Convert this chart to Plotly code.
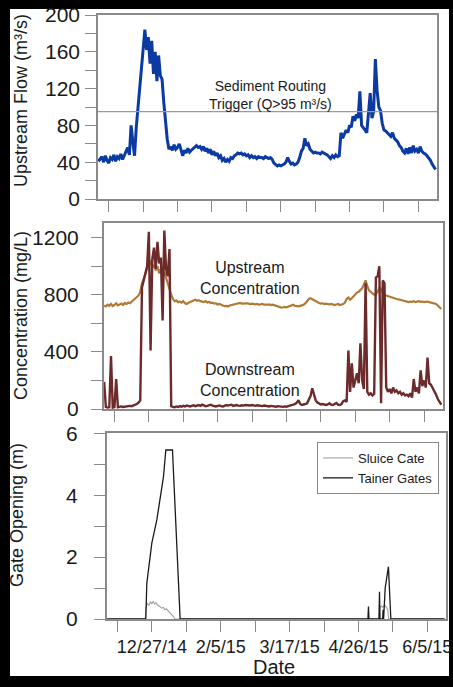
import pandas as pd
import plotly.graph_objects as go

# ---- data (daily values starting 1 Dec 2014) ----
start_date = "2014-12-01"

flow_m3s = [
    41, 44, 46, 40, 47, 42, 39, 45, 43, 48, 41, 46, 44, 49, 43, 47, 52, 56, 48, 80,
    62, 47, 78, 100, 118, 138, 158, 184, 162, 176, 147, 172, 136, 160, 128, 156, 134, 130, 105, 85,
    65, 54, 57, 53, 59, 54, 56, 60, 52, 47, 53, 50, 55, 51, 53, 55, 57, 58, 56, 57,
    54, 57, 52, 55, 50, 54, 48, 52, 47, 50, 45, 47, 42, 44, 40, 43, 41, 45, 44, 47,
    48, 50, 49, 50, 48, 49, 47, 48, 45, 47, 45, 46, 44, 46, 45, 45, 44, 46, 45, 44,
    45, 43, 39, 37, 36, 37, 36, 37, 38, 40, 45, 41, 38, 39, 37, 38, 40, 45, 52, 55,
    66, 58, 60, 54, 52, 50, 51, 50, 50, 49, 51, 50, 49, 48, 46, 44, 47, 45, 48, 46,
    47, 72, 66, 70, 75, 72, 80, 78, 90, 85, 92, 88, 117, 80, 78, 75, 72, 90, 115, 88,
    95, 152, 118, 100, 96, 82, 75, 74, 72, 70, 68, 72, 66, 64, 62, 58, 56, 52, 50, 55,
    49, 56, 50, 58, 52, 54, 50, 57, 52, 50, 49, 47, 45, 42, 38, 35, 32,
]

upstream_mgl = [
    725, 718, 730, 722, 735, 720, 728, 740, 725, 732, 738, 728, 742, 735, 745, 740, 752, 760, 770, 785,
    795, 820, 880, 910, 950, 980, 1000, 1040, 990, 1010, 970, 1000, 950, 980, 930, 960, 920, 880, 830, 800,
    770, 755, 760, 748, 752, 745, 755, 740, 735, 745, 750, 755, 760, 765, 758, 762, 755, 750, 748, 755,
    745, 750, 742, 745, 738, 740, 732, 735, 728, 725, 720, 722, 718, 725, 728, 730, 735, 738, 740, 742,
    738, 740, 742, 740, 738, 735, 738, 735, 732, 735, 730, 732, 735, 730, 728, 730, 732, 728, 730, 725,
    720, 715, 712, 710, 712, 715, 712, 718, 720, 728, 730, 722, 720, 718, 722, 725, 730, 740, 755, 770,
    775, 768, 760, 752, 745, 742, 738, 740, 735, 738, 735, 732, 735, 730, 728, 732, 735, 728, 730, 735,
    745, 770, 780, 765, 775, 790, 800, 815, 820, 830, 845, 870, 900, 860, 830, 820, 810, 800, 805, 820,
    850, 840, 815, 800, 795, 790, 785, 780, 778, 775, 770, 768, 765, 760, 758, 755, 750, 748, 752, 750,
    755, 748, 752, 755, 750, 752, 748, 750, 752, 748, 745, 742, 740, 735, 725, 712, 700,
]

downstream_mgl = [
    190, 15, 10, 12, 370, 10, 14, 210, 12, 15, 18, 14, 16, 20, 18, 22, 20, 25, 28, 35,
    45, 60, 850, 900, 950, 1000, 1240, 410, 1050, 1130, 980, 1170, 1020, 1060, 620, 1250, 980, 930, 1120, 20,
    15, 12, 18, 14, 20, 16, 22, 18, 25, 20, 18, 22, 26, 20, 24, 28, 22, 30, 25, 20,
    22, 26, 30, 24, 20, 18, 22, 25, 20, 18, 22, 28, 24, 26, 30, 22, 25, 28, 24, 22,
    26, 24, 28, 26, 22, 25, 28, 24, 22, 26, 24, 22, 20, 24, 22, 20, 18, 22, 20, 18,
    16, 20, 18, 16, 15, 18, 16, 20, 22, 25, 30, 35, 45, 62, 35, 28, 30, 35, 40, 60,
    90, 145, 100, 60, 45, 38, 32, 35, 30, 28, 32, 40, 30, 28, 35, 42, 30, 28, 35, 55,
    60, 50, 410, 120, 320, 150, 200, 250, 180, 460, 200, 140, 880, 120, 100, 110, 95, 105, 920, 930,
    1000, 40, 900, 880, 150, 120, 140, 110, 150, 120, 130, 110, 120, 100, 110, 95, 100, 90, 110, 80,
    210, 120, 150, 110, 270, 160, 200, 150, 360, 180, 170, 150, 120, 100, 70, 45, 30,
]

# gate openings: day offsets from start_date and opening (m)
tainer_day = [0, 22.45, 23.05, 25.96, 28.86, 32.73, 34.09, 37.96, 42.41,
              151.5, 151.8, 152.1, 157.9, 158.2, 158.5, 160.0, 160.3, 160.6,
              161.5, 163.4, 164.8, 196]
tainer_m = [0, 0, 1.15, 2.45, 3.2, 4.6, 5.46, 5.46, 0,
            0, 0.4, 0, 0, 0.88, 0, 0, 0.3, 0,
            1.0, 1.69, 0, 0]

sluice_day = [0, 22.2, 22.5, 23.4, 24.3, 25.2, 26.0, 26.8, 27.6, 28.4, 29.3, 30.1,
              31.0, 31.8, 32.7, 33.5, 34.4, 35.2, 36.0, 36.9, 37.7, 38.5, 39.4,
              158.0, 158.3, 159.2, 160.1, 161.0, 162.0, 163.0, 163.5, 196]
sluice_m = [0, 0, 0.38, 0.5, 0.45, 0.55, 0.5, 0.57, 0.48, 0.52, 0.45, 0.42,
            0.38, 0.35, 0.37, 0.3, 0.33, 0.28, 0.22, 0.2, 0.15, 0.08, 0,
            0, 0.35, 0.42, 0.38, 0.45, 0.4, 0.3, 0, 0]

trigger_q = 95

flow_ticks = dict(major=40, minor=20, top=200)
conc_ticks = dict(major=400, minor=200, top=1300)
gate_ticks = dict(major=2, minor=1, top=6)

# ---- derived time axes ----
base = pd.Timestamp(start_date)
t_flow = pd.date_range(start_date, periods=len(flow_m3s), freq="D")
t_up = pd.date_range(start_date, periods=len(upstream_mgl), freq="D")
t_down = pd.date_range(start_date, periods=len(downstream_mgl), freq="D")
t_tainer = [base + pd.to_timedelta(d, unit="D") for d in tainer_day]
t_sluice = [base + pd.to_timedelta(d, unit="D") for d in sluice_day]

x_range = ["2014-11-30 18:00", "2015-06-15 20:00"]
DAY_MS = 86400000

FONT = "Liberation Sans, Arial, sans-serif"
FRAME = "#8a8a8a"
INK = "#1a1a1a"
W, H = 453, 687

fig = go.Figure()

fig.add_trace(go.Scatter(x=t_flow, y=flow_m3s, mode="lines", xaxis="x", yaxis="y",
                         line=dict(color="#0b3aa3", width=3), showlegend=False))
fig.add_trace(go.Scatter(x=t_up, y=upstream_mgl, mode="lines", xaxis="x2", yaxis="y2",
                         line=dict(color="#b07a36", width=2.2), showlegend=False))
fig.add_trace(go.Scatter(x=t_down, y=downstream_mgl, mode="lines", xaxis="x2", yaxis="y2",
                         line=dict(color="#6c2a2a", width=2.4), showlegend=False))
fig.add_trace(go.Scatter(x=t_sluice, y=sluice_m, mode="lines", xaxis="x3", yaxis="y3",
                         name="Sluice Cate", line=dict(color="#a0a0a0", width=1.1)))
fig.add_trace(go.Scatter(x=t_tainer, y=tainer_m, mode="lines", xaxis="x3", yaxis="y3",
                         name="Tainer Gates", line=dict(color="#1a1a1a", width=1.3)))


def xaxis_style(domain, anchor, labels):
    return dict(
        domain=domain, anchor=anchor, type="date", range=x_range, automargin=False,
        tick0="2014-12-27", dtick=40 * DAY_MS, tickformat="%-m/%-d/%y",
        ticks="outside", ticklen=11, tickwidth=1.3, tickcolor=FRAME,
        minor=dict(tick0="2014-12-07", dtick=20 * DAY_MS, ticks="outside",
                   ticklen=11, tickwidth=1.3, tickcolor=FRAME),
        showline=True, mirror=True, linecolor=FRAME, linewidth=1.5,
        showgrid=False, zeroline=False, showticklabels=labels,
        ticklabelstandoff=0,
        tickfont=dict(family=FONT, size=18, color=INK),
    )


def yaxis_style(domain, anchor, spec, label_gap):
    return dict(
        domain=domain, anchor=anchor, range=[0, spec["top"]], automargin=False,
        tick0=0, dtick=spec["major"],
        ticks="outside", ticklen=11, tickwidth=1.3, tickcolor=FRAME,
        minor=dict(dtick=spec["minor"], ticks="outside", ticklen=11,
                   tickwidth=1.3, tickcolor=FRAME),
        showline=True, mirror=True, linecolor=FRAME, linewidth=1.5,
        showgrid=False, zeroline=False,
        ticklabelstandoff=label_gap,
        tickfont=dict(family=FONT, size=21, color=INK),
    )


def px_x(a, b):
    return [a / W, b / W]


def px_y(top, bottom):
    return [1 - bottom / H, 1 - top / H]


fig.update_layout(
    width=W, height=H, autosize=False,
    margin=dict(l=0, r=0, t=0, b=0, autoexpand=False),
    paper_bgcolor="black", plot_bgcolor="white",
    font=dict(family=FONT, color=INK),
    xaxis=xaxis_style(px_x(98, 437), "y", False),
    xaxis2=xaxis_style(px_x(103.7, 442.7), "y2", False),
    xaxis3=xaxis_style(px_x(106.7, 446), "y3", True),
    yaxis=yaxis_style(px_y(15, 199), "x", flow_ticks, 1),
    yaxis2=yaxis_style(px_y(223.3, 409), "x2", conc_ticks, 8),
    yaxis3=yaxis_style(px_y(433.3, 619), "x3", gate_ticks, 12),
    legend=dict(x=317 / W, y=1 - 442 / H, xanchor="left", yanchor="top",
                bgcolor="white", bordercolor=FRAME, borderwidth=1,
                font=dict(family=FONT, size=13, color=INK)),
    showlegend=True,
)

# white page area inside the dark border
fig.add_shape(type="rect", xref="paper", yref="paper", layer="below",
              x0=10 / W, x1=449 / W, y0=1 - 676 / H, y1=1 - 9 / H,
              fillcolor="white", line=dict(width=0))

# sediment routing trigger level
fig.add_shape(type="line", xref="x domain", yref="y", x0=0, x1=1,
              y0=trigger_q, y1=trigger_q, line=dict(color="#9a9a9a", width=1.2))


def label(text, xp, yp, size, angle=0):
    fig.add_annotation(xref="paper", yref="paper", x=xp / W, y=1 - yp / H,
                       xanchor="center", yanchor="middle", text=text,
                       textangle=angle, showarrow=False,
                       font=dict(family=FONT, size=size, color=INK))


# axis titles
label("Upstream Flow (m³/s)", 21, 101, 18, -90)
label("Concentration (mg/L)", 21, 316, 18, -90)
label("Gate Opening (m)", 17, 515, 18, -90)
label("Date", 274, 667, 20)

# in-panel labels
label("Sediment Routing<br>Trigger (Q>95 m³/s)", 270, 95, 14)
label("Upstream<br>Concentration", 250, 278, 16)
label("Downstream<br>Concentration", 250, 380, 16)

fig.write_html("out.html", config={"displayModeBar": False})
